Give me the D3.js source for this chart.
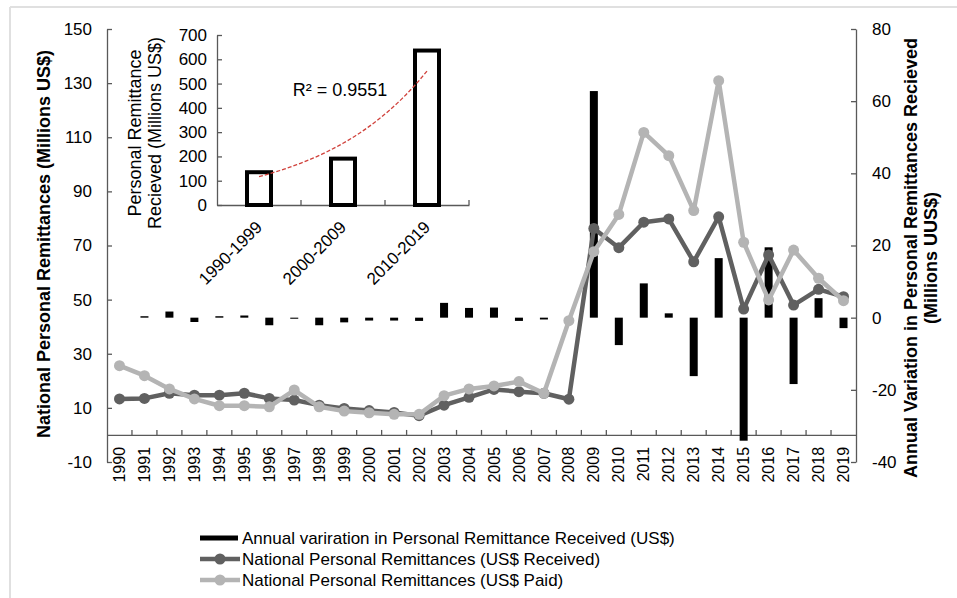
<!DOCTYPE html>
<html>
<head>
<meta charset="utf-8">
<script src="https://cdn.jsdelivr.net/npm/d3@7"></script>
<style>
  body { margin: 0; background: #fff; }
  svg { font-family: Arial, "Liberation Sans", sans-serif; }
</style>
</head>
<body>
<svg width="957" height="598"></svg>
<script>
// Data
const years = ["1990","1991","1992","1993","1994","1995","1996","1997","1998","1999",
  "2000","2001","2002","2003","2004","2005","2006","2007","2008","2009",
  "2010","2011","2012","2013","2014","2015","2016","2017","2018","2019"];

// annual variation, millions US$ (right axis)
const annualVariation = [null, 0.4, 1.7, -1.2, 0.4, 0.6, -2.1, -0.3, -2.1, -1.3,
  -0.8, -0.8, -0.9, 4.1, 2.7, 2.8, -0.9, -0.5, -1.0, 62.8,
  -7.6, 9.5, 1.2, -16.2, 16.5, -34.1, 19.5, -18.4, 5.4, -2.9];

// national personal remittances, millions US$ (left axis)
const received = [13.3, 13.5, 15.4, 14.7, 14.7, 15.4, 13.5, 12.9, 11.0, 9.8,
  9.0, 8.3, 7.1, 11.0, 13.9, 16.8, 16.0, 15.4, 13.2, 76.3,
  69.2, 78.6, 79.8, 64.0, 80.6, 46.5, 66.5, 48.0, 53.8, 51.1];
const paid = [25.6, 21.9, 17.0, 13.3, 10.8, 10.8, 10.4, 16.6, 10.4, 8.8,
  8.2, 7.6, 7.6, 14.5, 17.0, 18.1, 19.7, 15.4, 42.2, 67.7,
  81.5, 111.8, 103.2, 82.9, 130.9, 71.2, 49.9, 68.3, 57.9, 49.6];

const leftTicks = [-10, 10, 30, 50, 70, 90, 110, 130, 150];
const rightTicks = [-40, -20, 0, 20, 40, 60, 80];

// inset
const decades = ["1990-1999", "2000-2009", "2010-2019"];
const decadeTotals = [135, 191, 636];
const insetTicks = [0, 100, 200, 300, 400, 500, 600, 700];

const legendItems = [
  "Annual variration in Personal Remittance Received (US$)",
  "National Personal Remittances (US$ Received)",
  "National Personal Remittances (US$ Paid)"
];

const axisColor = "#595959";
const darkGray = "#606060";
const lightGray = "#b4b4b4";
const plain = d => String(d);   // keep the plain hyphen for negatives

const svg = d3.select("svg");

// frame (top and left only)
svg.append("line").attr("x1", 10).attr("x2", 957).attr("y1", 7).attr("y2", 7)
  .attr("stroke", "#e0e0e0").attr("stroke-width", 2);
svg.append("line").attr("x1", 10).attr("x2", 10).attr("y1", 7).attr("y2", 598)
  .attr("stroke", "#e0e0e0").attr("stroke-width", 2);

// Scales
const x = d3.scaleBand().domain(years).range([107, 856]);
const yL = d3.scaleLinear().domain([-10, 150]).range([462, 29]);
const yR = d3.scaleLinear().domain([-40, 80]).range([462, 29]);
const cx = d => x(d) + x.bandwidth() / 2;

function styleAxis(g, size) {
  g.select(".domain").attr("stroke", axisColor).attr("stroke-width", 1.3);
  g.selectAll(".tick line").attr("stroke", axisColor).attr("stroke-width", 1.3);
  g.selectAll("text").attr("fill", "#000").style("font-size", size + "px");
}

// left axis
svg.append("g")
  .attr("transform", "translate(107,0)")
  .call(d3.axisLeft(yL).tickValues(leftTicks).tickFormat(plain)
    .tickSizeInner(-5).tickSizeOuter(0).tickPadding(15))
  .call(g => styleAxis(g, 17));

// right axis
svg.append("g")
  .attr("transform", "translate(856,0)")
  .call(d3.axisRight(yR).tickValues(rightTicks).tickFormat(plain)
    .tickSizeInner(-5).tickSizeOuter(0).tickPadding(16))
  .call(g => styleAxis(g, 17));

// x axis at left value 0
const xAxis = svg.append("g")
  .attr("transform", `translate(0,${yL(0)})`)
  .call(d3.axisBottom(x).tickSizeInner(0).tickSizeOuter(0))
  .call(g => styleAxis(g, 16));
xAxis.selectAll("text")
  .attr("y", 0).attr("dy", "0.35em")
  .attr("text-anchor", "end")
  .attr("transform", "translate(0,12) rotate(-90)");
// category boundary ticks
xAxis.selectAll(".bound")
  .data(years.slice(1))
  .join("line")
  .attr("x1", d => x(d)).attr("x2", d => x(d))
  .attr("y1", 0).attr("y2", -5)
  .attr("stroke", axisColor).attr("stroke-width", 1.3);

// bars
const barData = years.map((y, i) => ({ year: y, v: annualVariation[i] })).filter(d => d.v !== null);
svg.append("g")
  .selectAll("rect")
  .data(barData)
  .join("rect")
  .attr("x", d => cx(d.year) - 4)
  .attr("width", 8)
  .attr("y", d => Math.min(yR(d.v), yR(0)))
  .attr("height", d => Math.abs(yR(d.v) - yR(0)))
  .attr("fill", "#000");

// lines
function drawSeries(values, color) {
  const pts = years.map((y, i) => ({ year: y, v: values[i] }));
  const g = svg.append("g");
  g.append("path")
    .datum(pts)
    .attr("fill", "none")
    .attr("stroke", color)
    .attr("stroke-width", 4.5)
    .attr("stroke-linejoin", "round")
    .attr("d", d3.line().x(d => cx(d.year)).y(d => yL(d.v)));
  g.selectAll("circle")
    .data(pts)
    .join("circle")
    .attr("cx", d => cx(d.year))
    .attr("cy", d => yL(d.v))
    .attr("r", 5.5)
    .attr("fill", color);
}
drawSeries(received, darkGray);
drawSeries(paid, lightGray);

// axis titles
svg.append("text")
  .attr("transform", "translate(44,244) rotate(-90)")
  .attr("text-anchor", "middle").attr("dy", "0.35em")
  .style("font-size", "18px").style("font-weight", "bold")
  .text("National Personal Remittances (Millions US$)");

const rTitle = svg.append("text")
  .attr("transform", "translate(911,258) rotate(-90)")
  .attr("text-anchor", "middle")
  .style("font-size", "18px").style("font-weight", "bold");
rTitle.append("tspan").attr("x", 0).attr("dy", "0.35em").text("Annual Variation in Personal Remittances Recieved");
rTitle.append("tspan").attr("x", 0).attr("dy", "1.1em").text("(Millions UUS$)");

// Inset chart
const xi = d3.scaleBand().domain(decades).range([217, 469]);
const yi = d3.scaleLinear().domain([0, 700]).range([205, 35]);
const icx = d => xi(d) + xi.bandwidth() / 2;

svg.append("g")
  .attr("transform", "translate(217,0)")
  .call(d3.axisLeft(yi).tickValues(insetTicks).tickSizeInner(-5).tickSizeOuter(0).tickPadding(10))
  .call(g => styleAxis(g, 17));

const xiAxis = svg.append("g")
  .attr("transform", "translate(0,205)")
  .call(d3.axisBottom(xi).tickSizeInner(0).tickSizeOuter(0))
  .call(g => styleAxis(g, 17));
xiAxis.selectAll("text")
  .attr("y", 0).attr("dy", "0.35em")
  .attr("text-anchor", "end")
  .attr("transform", "translate(0,19) rotate(-45)");
xiAxis.selectAll(".bound")
  .data(decades)
  .join("line")
  .attr("x1", d => xi(d) + xi.step()).attr("x2", d => xi(d) + xi.step())
  .attr("y1", 0).attr("y2", -5)
  .attr("stroke", axisColor).attr("stroke-width", 1.3);

svg.append("g")
  .selectAll("rect")
  .data(decades.map((d, i) => ({ k: d, v: decadeTotals[i] })))
  .join("rect")
  .attr("x", d => icx(d.k) - 12)
  .attr("width", 24)
  .attr("y", d => yi(d.v))
  .attr("height", d => yi(0) - yi(d.v))
  .attr("fill", "#fff")
  .attr("stroke", "#000")
  .attr("stroke-width", 4);

// exponential trendline fitted to the decade totals
const xs = decadeTotals.map((_, i) => i + 1);
const ls = decadeTotals.map(v => Math.log(v));
const mx = d3.mean(xs), ml = d3.mean(ls);
const b = d3.sum(xs, (xv, i) => (xv - mx) * (ls[i] - ml)) / d3.sum(xs, xv => (xv - mx) ** 2);
const a = ml - b * mx;
const trendPts = d3.range(1, 3.001, 0.05).map(t => ({ t, v: Math.exp(a + b * t) }));
const tx = d3.scaleLinear().domain([1, 3]).range([icx(decades[0]), icx(decades[2])]);
svg.append("path")
  .datum(trendPts)
  .attr("fill", "none")
  .attr("stroke", "#d0423c")
  .attr("stroke-width", 1.3)
  .attr("stroke-dasharray", "4,2")
  .attr("d", d3.line().x(d => tx(d.t)).y(d => yi(d.v)));

svg.append("text")
  .attr("x", 340).attr("y", 90).attr("dy", "0.35em")
  .attr("text-anchor", "middle")
  .style("font-size", "18px")
  .text("R² = 0.9551");

const iTitle = svg.append("text")
  .attr("transform", "translate(135,133) rotate(-90)")
  .attr("text-anchor", "middle")
  .style("font-size", "18px");
iTitle.append("tspan").attr("x", 0).attr("dy", "0.35em").text("Personal Remittance");
iTitle.append("tspan").attr("x", 0).attr("dy", "1.1em").text("Recieved (Millions US$)");

// legend
const legend = svg.append("g").attr("transform", "translate(200,538)");
legendItems.forEach((label, i) => {
  const row = legend.append("g").attr("transform", `translate(0,${i * 21})`);
  if (i === 0) {
    row.append("rect").attr("x", 0).attr("y", -2.5).attr("width", 38).attr("height", 5).attr("fill", "#000");
  } else {
    const c = i === 1 ? darkGray : lightGray;
    row.append("line").attr("x1", 0).attr("x2", 40).attr("y1", 0).attr("y2", 0)
      .attr("stroke", c).attr("stroke-width", 4.5);
    row.append("circle").attr("cx", 20).attr("cy", 0).attr("r", 5.5).attr("fill", c);
  }
  row.append("text").attr("x", 42).attr("dy", "0.35em")
    .style("font-size", "17px").text(label);
});
</script>
</body>
</html>
